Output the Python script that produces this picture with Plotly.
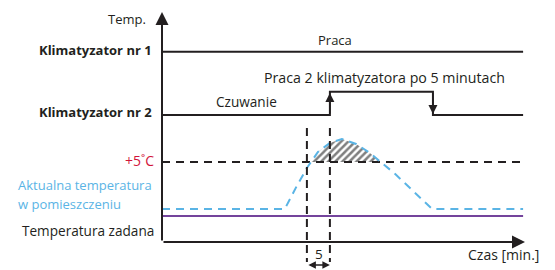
import plotly.graph_objects as go

# ---- data (time in minutes, level in "°C above setpoint" units) ----
klim1_time = [0, 78.5]
klim1_level = [15.2, 15.2]
klim2_time = [0, 36.5, 36.5, 58.9, 58.9, 78.5]
klim2_level = [9.35, 9.35, 11.5, 11.5, 9.35, 9.35]
threshold_time = [0, 78.5]
threshold_level = [5, 5]
setpoint_time = [0, 78.5]
setpoint_level = [0, 0]
room_time = [0, 26.7, 29.3, 31.5, 33.9, 36.5, 39.1, 42.2, 45.2, 47.8, 50.7, 54.6, 58.7, 78.5]
room_temp = [0.65, 0.65, 2.78, 4.44, 5.93, 6.76, 7.13, 6.67, 5.83, 4.91, 3.89, 2.31, 0.65, 0.65]
marker_times = [31.5, 36.5]  # start of exceedance, +5 min
marker_span = [8.15, -4.26]
delay_minutes = 5

INK = "#231f20"
RED = "#d2143a"
BLUE = "#5ab4e5"
PURPLE = "#74449c"
FONT = "Open Sans"

W, H = 555, 270
OFF = 8  # page body margin
# axes chosen so the diagram fills the canvas
x0px, xscale = 162 - OFF, 4.6
y0px, yscale = 216 - OFF, 10.8
xr = [-x0px / xscale, (W - x0px) / xscale]
yr = [(y0px - H) / yscale, y0px / yscale]


def px(p):
    return (p - OFF) / W


def py(p):
    return 1 - (p - OFF) / H


def X(p):
    return (p - OFF - x0px) / xscale


def Y(p):
    return (y0px - (p - OFF)) / yscale


# hatched exceedance polygon derived from the room-temperature data
thr = threshold_level[0]
poly_x, poly_y = [], []
for i in range(len(room_time) - 1):
    t1, v1, t2, v2 = room_time[i], room_temp[i], room_time[i + 1], room_temp[i + 1]
    if v1 >= thr:
        poly_x.append(t1); poly_y.append(v1)
    if (v1 - thr) * (v2 - thr) < 0:
        tc = t1 + (thr - v1) * (t2 - t1) / (v2 - v1)
        poly_x.append(tc); poly_y.append(thr)
poly_x.append(poly_x[0]); poly_y.append(poly_y[0])

fig = go.Figure()
fig.add_trace(go.Scatter(x=poly_x, y=poly_y, mode="lines", fill="toself",
                         line=dict(width=0), fillcolor="white",
                         fillpattern=dict(shape="/", fgcolor="#000000", bgcolor="white",
                                          size=5, solidity=0.5),
                         hoverinfo="skip"))
fig.add_trace(go.Scatter(x=klim1_time, y=klim1_level, mode="lines",
                         line=dict(color=INK, width=2)))
fig.add_trace(go.Scatter(x=klim2_time, y=klim2_level, mode="lines",
                         line=dict(color=INK, width=2)))
fig.add_trace(go.Scatter(x=threshold_time, y=threshold_level, mode="lines",
                         line=dict(color=INK, width=2, dash="8px,6px")))
fig.add_trace(go.Scatter(x=setpoint_time, y=setpoint_level, mode="lines",
                         line=dict(color=PURPLE, width=2)))
fig.add_trace(go.Scatter(x=room_time, y=room_temp, mode="lines",
                         line=dict(color=BLUE, width=2, dash="8px,6px")))
for t in marker_times:
    fig.add_trace(go.Scatter(x=[t, t], y=marker_span, mode="lines",
                             line=dict(color=INK, width=2, dash="8px,5px")))

ann = []
axis_y = Y(242)
# axes arrows
ann.append(dict(x=0, y=Y(12), ax=0, ay=axis_y, xref="x", yref="y",
                axref="x", ayref="y", showarrow=True, arrowhead=2, arrowsize=1.3,
                arrowwidth=2, arrowcolor=INK, text=""))
ann.append(dict(x=X(525), y=axis_y, ax=0, ay=axis_y, xref="x", yref="y",
                axref="x", ayref="y", showarrow=True, arrowhead=2, arrowsize=1.3,
                arrowwidth=2, arrowcolor=INK, text=""))
# klimatyzator 2 switching arrows
ann.append(dict(x=klim2_time[1], y=klim2_level[2] - 0.1, ax=klim2_time[1], ay=klim2_level[1],
                xref="x", yref="y", axref="x", ayref="y", showarrow=True, arrowhead=2,
                arrowsize=1.2, arrowwidth=1.5, arrowcolor=INK, text=""))
ann.append(dict(x=klim2_time[3], y=klim2_level[4] + 0.1, ax=klim2_time[3], ay=klim2_level[3],
                xref="x", yref="y", axref="x", ayref="y", showarrow=True, arrowhead=2,
                arrowsize=1.2, arrowwidth=1.5, arrowcolor=INK, text=""))
# 5 minute span
span_y = Y(265)
ann.append(dict(x=marker_times[1], y=span_y, ax=marker_times[0], ay=span_y,
                xref="x", yref="y", axref="x", ayref="y", showarrow=True, arrowhead=2,
                arrowside="end+start", arrowsize=1, arrowwidth=1.5, arrowcolor=INK, text=""))


def txt(s, x, y, xa="center", color=INK, size=13, bold=False):
    ann.append(dict(text=f"<b>{s}</b>" if bold else s, x=px(x), y=py(y), xref="paper",
                    yref="paper", xanchor=xa, yanchor="middle", showarrow=False,
                    font=dict(family=FONT, size=size, color=color)))


txt("Temp.", 148, 19, "right")
txt("Klimatyzator nr 1", 154, 50, "right", bold=True, size=13)
txt("Klimatyzator nr 2", 154, 112, "right", bold=True, size=13)
txt("Praca", 335, 40)
txt("Praca 2 klimatyzatora po 5 minutach", 385, 77, size=14.2)
txt("Czuwanie", 246, 102, size=13.6)
txt("+5˚C", 156, 160, "right", color=RED, size=14)
txt("Aktualna temperatura", 16, 185, "left", color=BLUE)
txt("w pomieszczeniu", 16, 204, "left", color=BLUE)
txt("Temperatura zadana", 156, 230, "right", size=13.6)
txt(str(delay_minutes), 319, 254, size=13.5)
txt("Czas [min.]", 541, 254, "right", size=14)

fig.update_layout(width=W, height=H, autosize=False, margin=dict(l=0, r=0, t=0, b=0),
                  paper_bgcolor="white", plot_bgcolor="white", showlegend=False,
                  xaxis=dict(visible=False, range=xr, fixedrange=True),
                  yaxis=dict(visible=False, range=yr, fixedrange=True),
                  annotations=ann)
fig.write_html("out.html")
